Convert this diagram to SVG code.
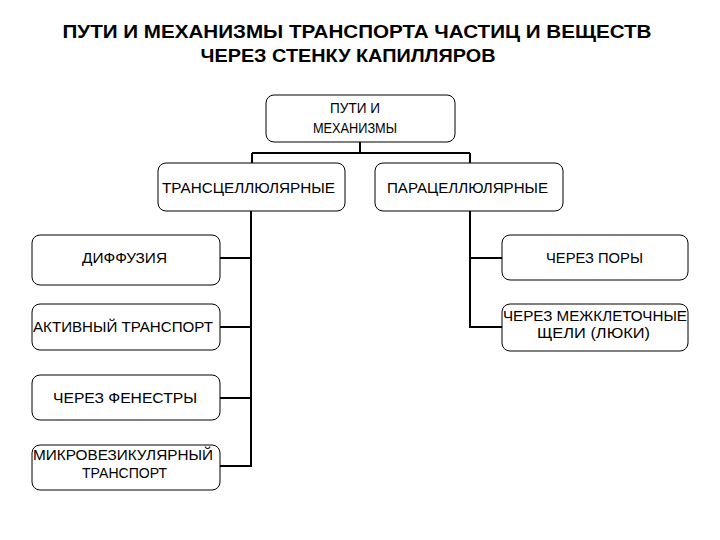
<svg xmlns="http://www.w3.org/2000/svg" width="720" height="540" viewBox="0 0 720 540">
<style>
.box{fill:#fff;stroke:#000;stroke-width:1}
.t{font-family:"Liberation Sans",Arial,sans-serif;font-size:15px;fill:#000;text-anchor:middle}
.title{font-family:"Liberation Sans",Arial,sans-serif;font-size:19px;font-weight:bold;fill:#000;text-anchor:middle}
.c{fill:none;stroke:#000;stroke-width:2}
</style>
<rect width="720" height="540" fill="#fff"/>
<g id="title">
<text class="title" x="357" y="38" textLength="589" lengthAdjust="spacingAndGlyphs">ПУТИ И МЕХАНИЗМЫ ТРАНСПОРТА ЧАСТИЦ И ВЕЩЕСТВ</text>
<text class="title" x="348" y="62" textLength="295" lengthAdjust="spacingAndGlyphs">ЧЕРЕЗ СТЕНКУ КАПИЛЛЯРОВ</text>
</g>
<g id="connectors">
<path class="c" d="M360 142 V153 M252 153 H470 M252 153 V163 M470 153 V163"/>
<path class="c" d="M251 211 V467 M220 258 H251 M220 327 H251 M220 398 H251 M220 466 H251"/>
<path class="c" d="M470 211 V327 H502 M470 258 H502"/>
</g>
<g id="root">
<rect class="box" x="266" y="95" width="189" height="47" rx="8"/>
<text class="t" x="355" y="113" textLength="50" lengthAdjust="spacingAndGlyphs">ПУТИ И</text>
<text class="t" x="355" y="133" textLength="84" lengthAdjust="spacingAndGlyphs">МЕХАНИЗМЫ</text>
</g>
<g id="transcell">
<rect class="box" x="158" y="163" width="187" height="48" rx="8"/>
<text class="t" x="248.5" y="193" textLength="173" lengthAdjust="spacingAndGlyphs">ТРАНСЦЕЛЛЮЛЯРНЫЕ</text>
</g>
<g id="paracell">
<rect class="box" x="375" y="163" width="188" height="48" rx="8"/>
<text class="t" x="467.5" y="193" textLength="161" lengthAdjust="spacingAndGlyphs">ПАРАЦЕЛЛЮЛЯРНЫЕ</text>
</g>
<g id="diffusion">
<rect class="box" x="32" y="235" width="188" height="50" rx="8"/>
<text class="t" x="124.5" y="263" textLength="85" lengthAdjust="spacingAndGlyphs">ДИФФУЗИЯ</text>
</g>
<g id="active">
<rect class="box" x="32" y="304" width="188" height="46" rx="8"/>
<text class="t" x="123" y="332" textLength="180" lengthAdjust="spacingAndGlyphs">АКТИВНЫЙ ТРАНСПОРТ</text>
</g>
<g id="fenestr">
<rect class="box" x="32" y="375" width="188" height="45" rx="8"/>
<text class="t" x="125" y="403" textLength="144" lengthAdjust="spacingAndGlyphs">ЧЕРЕЗ ФЕНЕСТРЫ</text>
</g>
<g id="microves">
<rect class="box" x="32" y="445" width="188" height="45" rx="8"/>
<text class="t" x="123" y="460" textLength="180" lengthAdjust="spacingAndGlyphs">МИКРОВЕЗИКУЛЯРНЫЙ</text>
<text class="t" x="124.5" y="478" textLength="85" lengthAdjust="spacingAndGlyphs">ТРАНСПОРТ</text>
</g>
<g id="pores">
<rect class="box" x="502" y="235" width="186" height="45" rx="8"/>
<text class="t" x="594.5" y="263" textLength="97" lengthAdjust="spacingAndGlyphs">ЧЕРЕЗ ПОРЫ</text>
</g>
<g id="intercell">
<rect class="box" x="502" y="304" width="186" height="47" rx="8"/>
<text class="t" x="595" y="321" textLength="184" lengthAdjust="spacingAndGlyphs">ЧЕРЕЗ МЕЖКЛЕТОЧНЫЕ</text>
<text class="t" x="593.5" y="338" textLength="113" lengthAdjust="spacingAndGlyphs">ЩЕЛИ (ЛЮКИ)</text>
</g>
</svg>
